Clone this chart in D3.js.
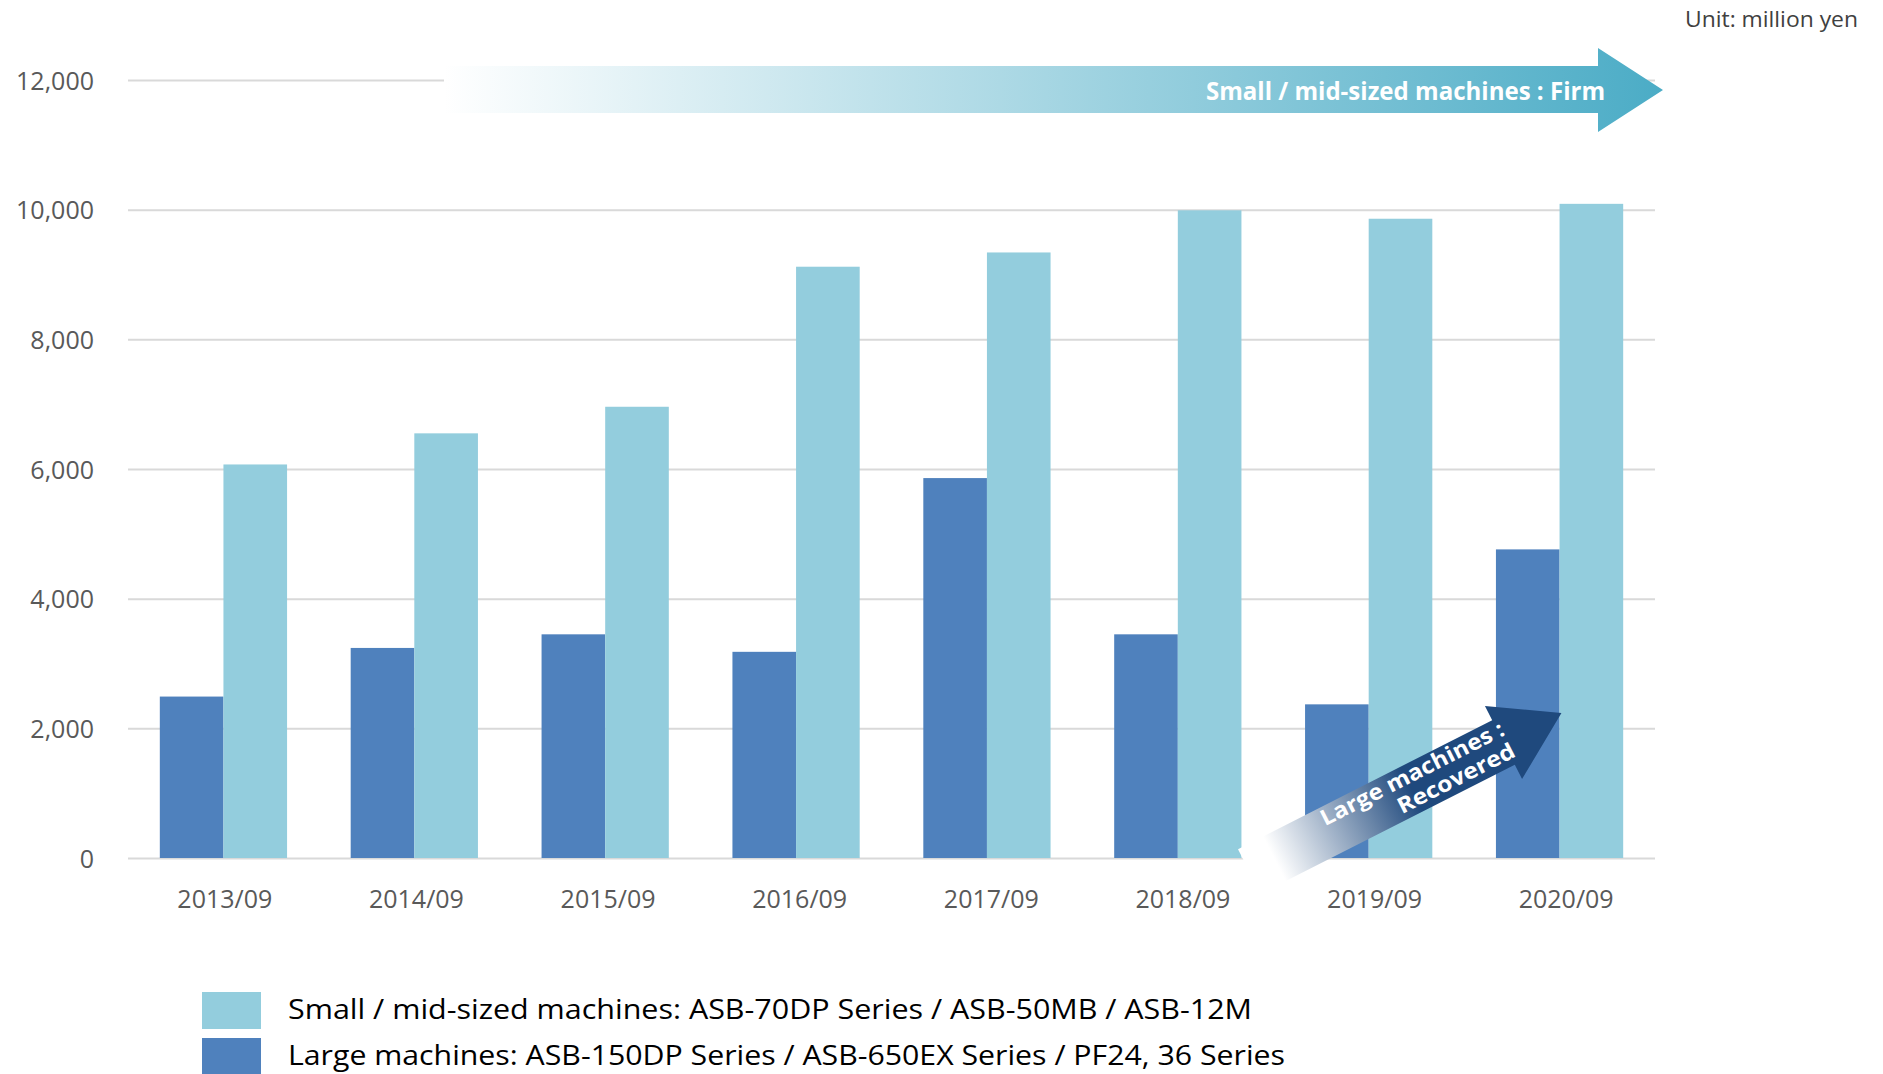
<!DOCTYPE html>
<html>
<head>
<meta charset="utf-8">
<script src="https://cdn.jsdelivr.net/npm/d3@7"></script>
<style>
  html, body { margin: 0; padding: 0; background: #fff; }
  svg { display: block; font-family: "Open Sans", "Noto Sans", sans-serif; }
</style>
</head>
<body>
<svg id="chart"></svg>
<script>
const categories = ["2013/09", "2014/09", "2015/09", "2016/09", "2017/09", "2018/09", "2019/09", "2020/09"];
const largeValues = [2490, 3240, 3450, 3180, 5860, 3450, 2370, 4760];
const smallValues = [6070, 6550, 6960, 9120, 9340, 9990, 9860, 10090];
const yTicks = [0, 2000, 4000, 6000, 8000, 10000, 12000];
const seriesNames = ["Large machines", "Small / mid-sized machines"];
const legendLabels = [
  "Small / mid-sized machines: ASB-70DP Series / ASB-50MB / ASB-12M",
  "Large machines: ASB-150DP Series / ASB-650EX Series / PF24, 36 Series"
];

const width = 1883, height = 1074;
const plotLeft = 128, plotRight = 1655, plotTop = 80, plotBottom = 858;
const darkBlue = "#4f81bd", lightBlue = "#93cddd";
const fontFamily = '"Open Sans", "Noto Sans", sans-serif';

const svg = d3.select("#chart").attr("width", width).attr("height", height);
const defs = svg.append("defs");

const x = d3.scaleBand().domain(categories).range([plotLeft, plotRight])
  .paddingInner(1 / 3).paddingOuter(1 / 6);
const xs = d3.scaleBand().domain(seriesNames).range([0, x.bandwidth()]);
// category labels sit a touch right of the group centres, like the original
const xLabel = d3.scaleBand().domain(categories).range([plotLeft + 1, plotRight + 7]);
const y = d3.scaleLinear().domain([0, 12000]).range([plotBottom, plotTop]);
const color = d3.scaleOrdinal().domain(seriesNames).range([darkBlue, lightBlue]);

// gridlines + y labels
const yAxis = svg.append("g")
  .attr("transform", `translate(${plotLeft},0)`)
  .call(d3.axisLeft(y).tickValues(yTicks).tickFormat(d3.format(","))
    .tickSize(-(plotRight - plotLeft)).tickPadding(34))
  .attr("font-family", fontFamily);
yAxis.select(".domain").remove();
yAxis.selectAll(".tick line").attr("stroke", "#d9d9d9").attr("stroke-width", 2);
yAxis.selectAll(".tick text").attr("font-size", 25).attr("fill", "#595959").attr("dy", "0.36em");

// bars
const rows = categories.map((c, i) => ({ cat: c, values: [largeValues[i], smallValues[i]] }));
const groups = svg.append("g").selectAll("g")
  .data(rows)
  .enter()
  .append("g")
  .attr("transform", d => `translate(${x(d.cat)},0)`);

groups.selectAll("rect")
  .data(d => d.values.map((v, k) => ({ key: seriesNames[k], value: v })))
  .enter()
  .append("rect")
  .attr("x", d => xs(d.key))
  .attr("y", d => y(d.value))
  .attr("width", xs.bandwidth())
  .attr("height", d => y(0) - y(d.value))
  .attr("fill", d => color(d.key));

// x labels
const xAxis = svg.append("g")
  .attr("transform", `translate(0,${plotBottom})`)
  .call(d3.axisBottom(xLabel).tickSize(0).tickPadding(32))
  .attr("font-family", fontFamily);
xAxis.select(".domain").remove();
xAxis.selectAll(".tick text").attr("font-size", 25).attr("fill", "#595959");

// top arrow: small / mid-sized firm
const g1 = defs.append("linearGradient").attr("id", "gradTop")
  .attr("x1", 0).attr("x2", 1).attr("y1", 0).attr("y2", 0);
g1.append("stop").attr("offset", "0%").attr("stop-color", "#ffffff");
g1.append("stop").attr("offset", "100%").attr("stop-color", "#4bacc6");

svg.append("path")
  .attr("d", "M444,66 L1598,66 L1598,48 L1663,90 L1598,132 L1598,113 L444,113 Z")
  .attr("fill", "url(#gradTop)");

svg.append("text")
  .attr("x", 1605).attr("y", 100)
  .attr("text-anchor", "end")
  .attr("font-size", 25).attr("font-weight", "bold")
  .attr("fill", "#fff")
  .attr("textLength", 399).attr("lengthAdjust", "spacingAndGlyphs")
  .text("Small / mid-sized machines : Firm");

// bottom arrow: large machines recovered
const g2 = defs.append("linearGradient").attr("id", "gradLarge")
  .attr("x1", 0).attr("x2", 1).attr("y1", 0).attr("y2", 0);
g2.append("stop").attr("offset", "0%").attr("stop-color", "#ffffff");
g2.append("stop").attr("offset", "8%").attr("stop-color", "#ffffff");
g2.append("stop").attr("offset", "52%").attr("stop-color", "#1f497d");
g2.append("stop").attr("offset", "100%").attr("stop-color", "#1f497d");

const arr = svg.append("g").attr("transform", "translate(1503.5,742.5) rotate(-26.9)");
arr.append("path")
  .attr("d", "M-285,-25 L0,-25 L0,-41 L65,0 L0,41 L0,25 L-285,25 Z")
  .attr("fill", "url(#gradLarge)");
arr.append("text")
  .attr("x", 6).attr("y", -6)
  .attr("text-anchor", "end")
  .attr("font-size", 22).attr("font-weight", "bold").attr("fill", "#fff")
  .attr("textLength", 203).attr("lengthAdjust", "spacingAndGlyphs")
  .text("Large machines :");
arr.append("text")
  .attr("x", 6).attr("y", 18)
  .attr("text-anchor", "end")
  .attr("font-size", 22).attr("font-weight", "bold").attr("fill", "#fff")
  .attr("textLength", 129).attr("lengthAdjust", "spacingAndGlyphs")
  .text("Recovered");

// unit
svg.append("text")
  .attr("x", 1858).attr("y", 27)
  .attr("text-anchor", "end")
  .attr("font-size", 21).attr("fill", "#404040")
  .attr("textLength", 173).attr("lengthAdjust", "spacingAndGlyphs")
  .text("Unit: million yen");

// legend
const legendColors = [lightBlue, darkBlue];
const legendWidths = [964, 997];
const legend = svg.append("g").selectAll("g")
  .data(legendLabels)
  .enter()
  .append("g")
  .attr("transform", (d, i) => `translate(202,${992 + i * 46})`);
legend.append("rect")
  .attr("width", 59).attr("height", 37)
  .attr("fill", (d, i) => legendColors[i]);
legend.append("text")
  .attr("x", 86).attr("y", 27)
  .attr("font-size", 28).attr("fill", "#000")
  .attr("textLength", (d, i) => legendWidths[i]).attr("lengthAdjust", "spacingAndGlyphs")
  .text(d => d);
</script>
</body>
</html>
